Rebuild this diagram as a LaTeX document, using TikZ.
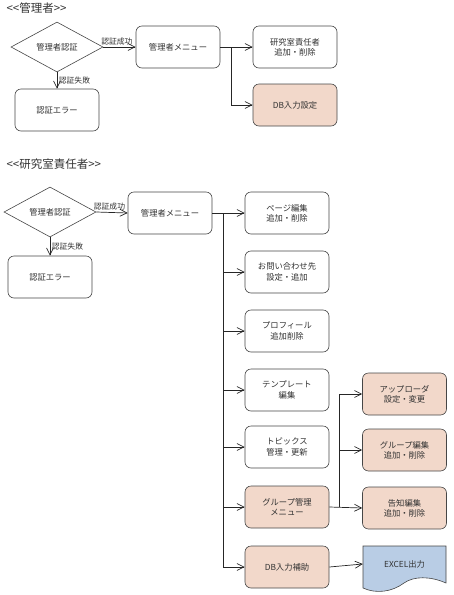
\documentclass[tikz,border=0pt]{standalone}
\usepackage{xcolor}
\usepackage{fontspec}
\setmainfont{Noto Sans CJK JP}
\usepackage{tikz}
\usetikzlibrary{
  arrows.meta,
  shapes.geometric
}
\definecolor{peach}{RGB}{242,216,202}
\definecolor{paleblue}{RGB}{185,205,229}
\definecolor{linegray}{RGB}{70,70,70}
\definecolor{textgray}{RGB}{50,50,50}

\begin{document}
\begin{tikzpicture}[%詳細設定
          x=1pt,y=-1pt,
          every node/.style={
              text=textgray,
              font=\fontsize{8.3}{10.3}\selectfont
            },
          box/.style={
              draw=linegray,
              line width=0.6pt,
              rounded corners=6pt,
              minimum width=84pt,
              minimum height=42pt,
              align=center,
              fill=white
            },
          hbox/.style={
              box,
              fill=peach
            },
          judge/.style={
              draw=linegray,
              line width=0.6pt,
              diamond,
              aspect=1.8,
              minimum width=92pt,
              minimum height=50pt,
              inner sep=0pt
            },
          title/.style={
              anchor=west,
              font=\fontsize{11.5}{13}\selectfont
            },
          arr/.style={
              draw=black!85,
              line width=0.7pt,
              -{Straight Barb[length=7pt,width=7pt]}
            },
          lbl/.style={
              font=\fontsize{7.8}{9}\selectfont,
              inner sep=1.5pt
            }
        ]
        \useasboundingbox (0,0) rectangle (453,595);

        % 管理者
        \node[title] (t_admin) at (3,8) {\mbox{<}\mbox{<}管理者\mbox{>}\mbox{>}};
        \node[judge] (auth1) at (57,47) {管理者認証};
        \node[box] (menu1) at (178,47) {管理者メニュー};
        \node[box] (err1) at (57,110) {認証エラー};
        \node[box] (chief1) at (295,47) {研究室責任者\\追加・削除};
        \node[hbox] (dbset1) at (295,105) {DB入力設定};

        \draw[arr] (auth1.east) -- (menu1.west) node[lbl,pos=.42,above] {認証成功};
        \draw[arr] (auth1.south) -- (err1.north) node[lbl,midway,right] {認証失敗};
        \coordinate (trunk1) at (231,47);
        \draw[arr,-] (menu1.east) -- (trunk1);
        \draw[arr] (trunk1) -- (chief1.west);
        \draw[arr] (trunk1) |- (dbset1.west);

        % 研究室責任者
        \node[title] (t_chief) at (3,164) {\mbox{<}\mbox{<}研究室責任者\mbox{>}\mbox{>}};
        \node[judge] (auth2) at (50,212) {管理者認証};
        \node[box] (menu2) at (170,213) {管理者メニュー};
        \node[box] (err2) at (50,277) {認証エラー};

        \node[box] (page) at (287,213) {ページ編集\\追加・削除};
        \node[box] (contact) at (287,272) {お問い合わせ先\\設定・追加};
        \node[box] (profile) at (287,331) {プロフィール\\追加削除};
        \node[box] (templ) at (287,390) {テンプレート\\編集};
        \node[box] (topics) at (287,447) {トピックス\\管理・更新};
        \node[hbox] (group) at (287,507) {グループ管理\\メニュー};
        \node[hbox] (dbaid) at (287,567) {DB入力補助};

        \node[hbox] (upl) at (404.5,394) {アップローダ\\設定・変更};
        \node[hbox] (gedit) at (404.5,450) {グループ編集\\追加・削除};
        \node[hbox] (notice) at (404.5,508) {告知編集\\追加・削除};

        % 出力（書類形状）
        \filldraw[draw=linegray,line width=0.6pt,fill=paleblue]
          (363,546) -- (446,546) -- (446,583)
          .. controls (430,576) and (414,576) .. (404,583)
          .. controls (392,592) and (376,594) .. (363,588) -- cycle;
        \node[minimum width=83pt,minimum height=38pt] (excel) at (404.5,564) {EXCEL出力};

        \draw[arr] (auth2.east) -- (menu2.west) node[lbl,pos=.42,above] {認証成功};
        \draw[arr] (auth2.south) -- (err2.north) node[lbl,midway,right] {認証失敗};
        \draw[arr] (menu2.east) -- (page.west);
        \coordinate (trunk2) at (223,213);
        \foreach \n in {contact,profile,templ,topics,group,dbaid}
          \draw[arr] (trunk2) |- (\n.west);

        \coordinate (trunk3) at (339,507);
        \draw[arr] (group.east) -- (notice.west);
        \foreach \n in {upl,gedit}
          \draw[arr] (trunk3) |- (\n.west);
        \draw[arr] (dbaid.east) -- (excel.west);

      \end{tikzpicture}
\end{document}
